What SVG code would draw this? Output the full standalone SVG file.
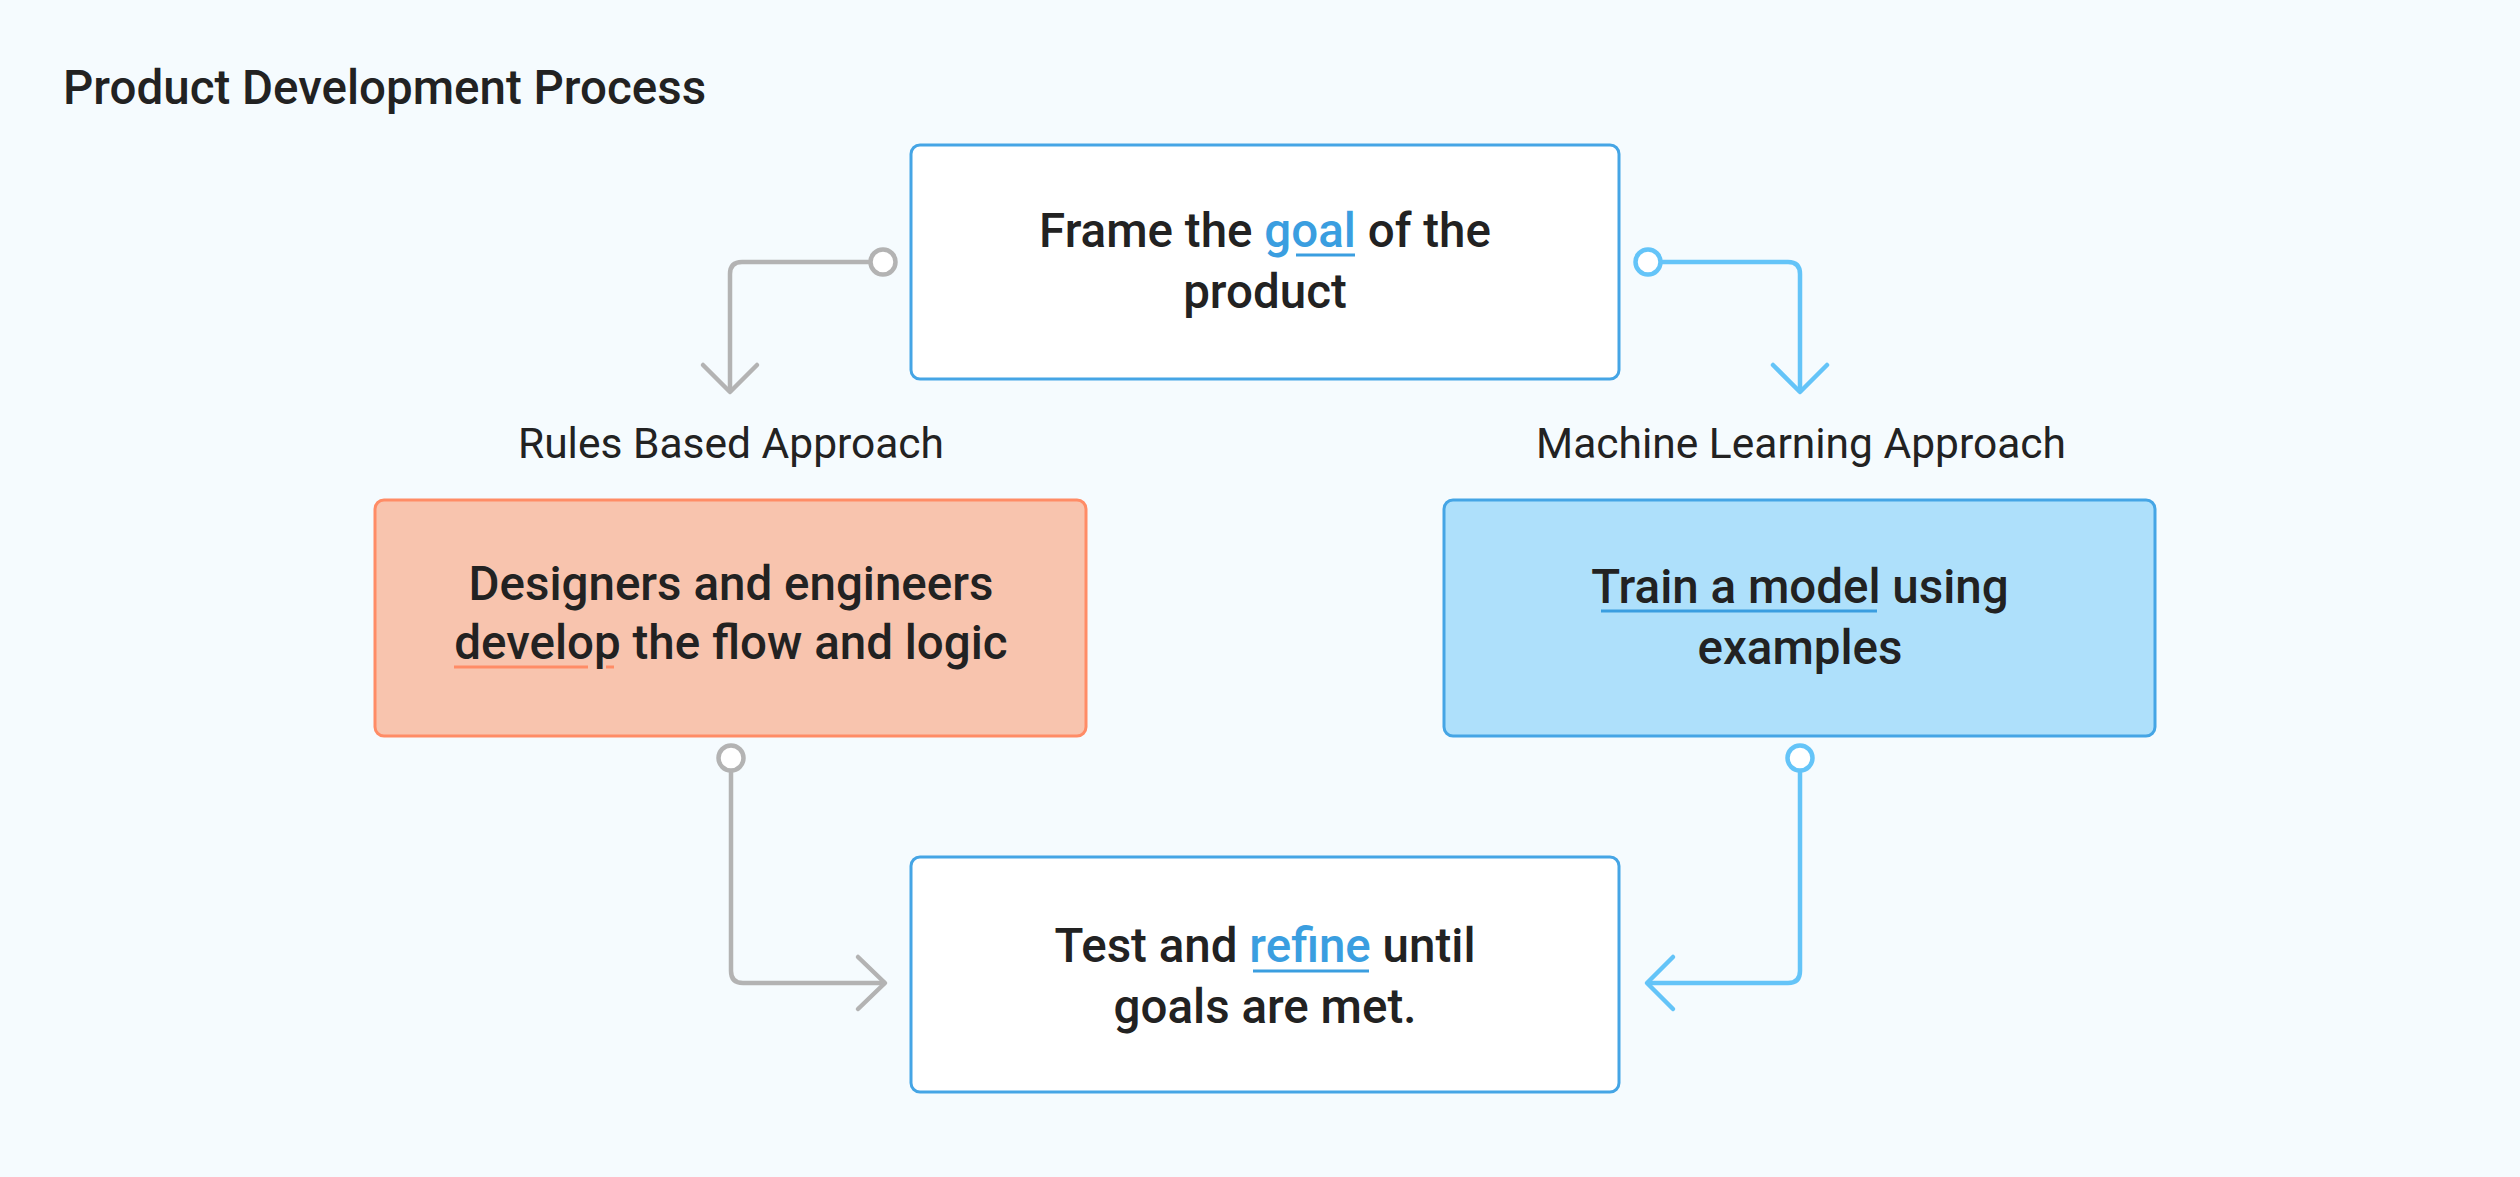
<svg xmlns="http://www.w3.org/2000/svg" width="2520" height="1177" viewBox="0 0 2520 1177">
<style>
.title{font-family:Roboto,"Liberation Sans",sans-serif;font-weight:500;font-size:47.5px;fill:#222222}
.lbl{font-family:Roboto,"Liberation Sans",sans-serif;font-weight:400;font-size:42.5px;fill:#222222}
.nt{font-family:Roboto,"Liberation Sans",sans-serif;font-weight:500;font-size:47.5px;fill:#222222;text-anchor:middle}
.hl{fill:#3a9ee0}
.nodeW{fill:#ffffff;stroke:#45a5e5;stroke-width:3}
.nodeO{fill:#f8c4ae;stroke:#ff8c66;stroke-width:3}
.nodeB{fill:#aee0fb;stroke:#45a5e5;stroke-width:3}
.cg{fill:none;stroke:#b3b3b3;stroke-width:4.5;stroke-linecap:round;stroke-linejoin:round}
.cb{fill:none;stroke:#64c4f8;stroke-width:4.5;stroke-linecap:round;stroke-linejoin:round}
.dotg{fill:#ffffff;stroke:#b3b3b3;stroke-width:4.5}
.dotb{fill:#ffffff;stroke:#64c4f8;stroke-width:4.5}
.ulb{stroke:#3a9ee0;stroke-width:3}
.ulo{stroke:#ff8c66;stroke-width:3}
</style>
<rect x="0" y="0" width="2520" height="1177" fill="#f5fbfe"/>
<text class="title" x="63" y="104">Product Development Process</text>

<g id="connectors">
  <path class="cg" d="M870 262 H742 Q730 262 730 274 V391"/>
  <path class="cg" d="M703 365 L730 392 L757 365"/>
  <circle class="dotg" cx="883" cy="262" r="12.5"/>
  <path class="cb" d="M1661 262 H1788 Q1800 262 1800 274 V391"/>
  <path class="cb" d="M1773 365 L1800 392 L1827 365"/>
  <circle class="dotb" cx="1648" cy="262" r="12.5"/>
  <path class="cg" d="M731 771 V971 Q731 983 743 983 H883"/>
  <path class="cg" d="M858 957 L885 983 L858 1009"/>
  <circle class="dotg" cx="731" cy="758" r="12.5"/>
  <path class="cb" d="M1800 771 V971 Q1800 983 1788 983 H1649"/>
  <path class="cb" d="M1673 957 L1647 983 L1673 1009"/>
  <circle class="dotb" cx="1800" cy="758" r="12.5"/>
</g>

<g id="label-rules"><text class="lbl" x="731" y="458" text-anchor="middle">Rules Based Approach</text></g>
<g id="label-ml"><text class="lbl" x="1801" y="458" text-anchor="middle">Machine Learning Approach</text></g>

<g id="node-frame">
  <rect class="nodeW" x="911" y="145" width="708" height="234" rx="9"/>
  <text class="nt" x="1265" y="247">Frame the <tspan class="hl">goal</tspan> of the</text>
  <text class="nt" x="1265" y="308">product</text>
  <line class="ulb" x1="1296" y1="255" x2="1355" y2="255"/>
</g>

<g id="node-rules">
  <rect class="nodeO" x="375" y="500" width="711" height="236" rx="9"/>
  <text class="nt" x="731" y="600">Designers and engineers</text>
  <text class="nt" x="731" y="659">develop the flow and logic</text>
  <line class="ulo" x1="454" y1="667" x2="588" y2="667"/>
  <line class="ulo" x1="606" y1="667" x2="614" y2="667"/>
</g>

<g id="node-ml">
  <rect class="nodeB" x="1444" y="500" width="711" height="236" rx="9"/>
  <text class="nt" x="1800" y="603">Train a model using</text>
  <text class="nt" x="1800" y="664">examples</text>
  <line class="ulb" x1="1601" y1="611" x2="1877" y2="611"/>
</g>

<g id="node-test">
  <rect class="nodeW" x="911" y="857" width="708" height="235" rx="9"/>
  <text class="nt" x="1265" y="962">Test and <tspan class="hl">refine</tspan> until</text>
  <text class="nt" x="1265" y="1023">goals are met.</text>
  <line class="ulb" x1="1253" y1="971" x2="1369" y2="971"/>
</g>
</svg>
